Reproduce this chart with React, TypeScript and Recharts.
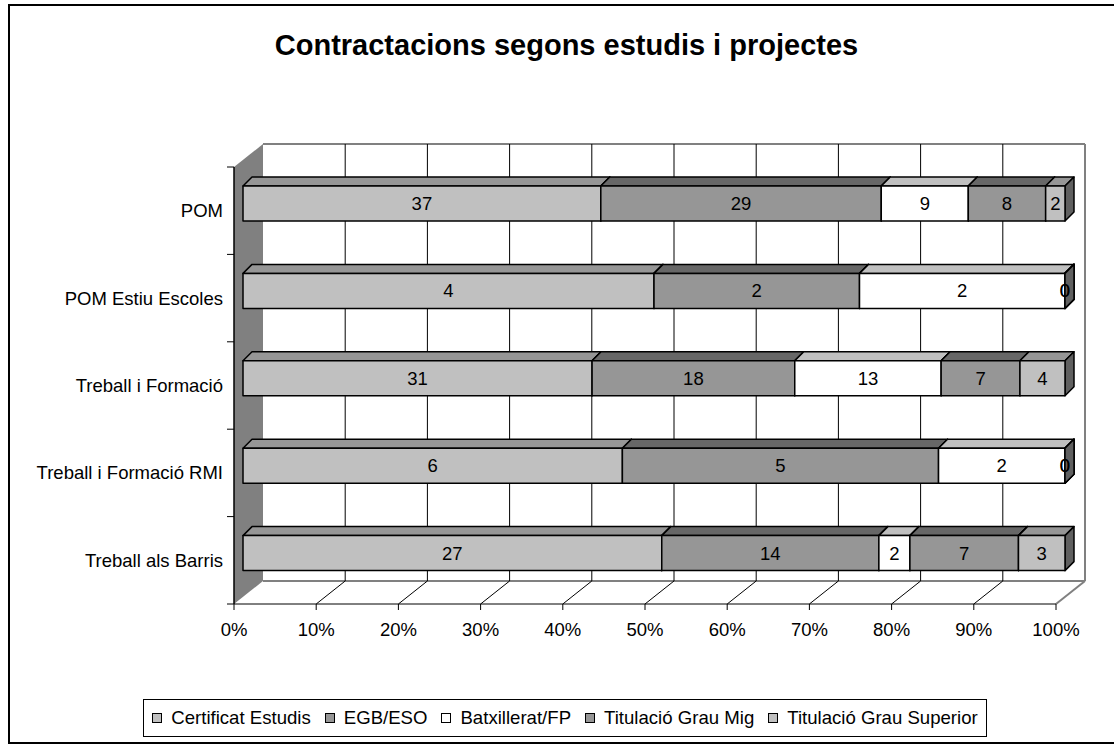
import { BarChart, Bar, XAxis, YAxis, CartesianGrid, Legend, LabelList } from "recharts"

const categories = [
  "POM",
  "POM Estiu Escoles",
  "Treball i Formació",
  "Treball i Formació RMI",
  "Treball als Barris",
]
const certificat = [37, 4, 31, 6, 27]
const egbEso = [29, 2, 18, 5, 14]
const batxillerat = [9, 2, 13, 2, 2]
const grauMig = [8, 0, 7, 0, 7]
const grauSuperior = [2, 0, 4, 0, 3]
const percentTicks = [0, 0.1, 0.2, 0.3, 0.4, 0.5, 0.6, 0.7, 0.8, 0.9, 1]

const series = [
  { key: "cert", name: "Certificat Estudis", values: certificat, fill: "#c0c0c0", top: "#969696", side: "#606060" },
  { key: "egb", name: "EGB/ESO", values: egbEso, fill: "#969696", top: "#676767", side: "#4b4b4b" },
  { key: "batx", name: "Batxillerat/FP", values: batxillerat, fill: "#ffffff", top: "#c0c0c0", side: "#808080" },
  { key: "mig", name: "Titulació Grau Mig", values: grauMig, fill: "#969696", top: "#676767", side: "#4b4b4b" },
  { key: "sup", name: "Titulació Grau Superior", values: grauSuperior, fill: "#c0c0c0", top: "#969696", side: "#606060" },
]

const data = categories.map((name, i) => {
  const row: Record<string, string | number> = { name }
  series.forEach((s) => (row[s.key] = s.values[i]))
  return row
})

const FONT = "'Liberation Sans', Arial, sans-serif"
const PLOT_TOP = 167
const PLOT_BOTTOM = 604
const PLOT_LEFT = 234
const PLOT_RIGHT = 1056
const BAND = (PLOT_BOTTOM - PLOT_TOP) / categories.length
// 3d depth of the walls and the bars
const WALL_DX = 29
const WALL_DY = 23
const BAR_DX = 9
const BAR_DY = 7
const DEPTH = 9

function Box3D(props: any) {
  const { x, y, width, height, fill, top, side } = props
  if (x == null || y == null || isNaN(width)) return null
  const fx = x + BAR_DX
  const fy = y - BAR_DY
  const w = Math.max(0, width)
  const st = { stroke: "#000", strokeWidth: 1.5, strokeLinejoin: "round" as const }
  return (
    <g>
      <polygon
        points={`${fx},${fy} ${fx + DEPTH},${fy - DEPTH} ${fx + w + DEPTH},${fy - DEPTH} ${fx + w},${fy}`}
        fill={top}
        {...st}
      />
      <polygon
        points={`${fx + w},${fy} ${fx + w + DEPTH},${fy - DEPTH} ${fx + w + DEPTH},${fy + height - DEPTH} ${fx + w},${fy + height}`}
        fill={side}
        {...st}
      />
      <rect x={fx} y={fy} width={w} height={height} fill={fill} {...st} />
    </g>
  )
}

const renderLabel = (values: number[]) => (p: any) => {
  const { x, y, width, height, index } = p
  return (
    <text
      key={`lbl-${index}`}
      x={x + width / 2 + BAR_DX}
      y={y + height / 2 - BAR_DY}
      textAnchor="middle"
      dominantBaseline="central"
      fontSize={18.5}
      fontFamily={FONT}
      fill="#000"
    >
      {values[index]}
    </text>
  )
}

function gridLine(p: any) {
  const { x1, y1, y2, index } = p
  const isLast = Math.abs(x1 - PLOT_RIGHT) < 0.5
  const col = isLast ? "#808080" : "#000"
  return (
    <g key={`grid-${index}-${x1}`}>
      {index === 0 && (
        <g>
          <polygon
            points={`${x1},${y1} ${x1 + WALL_DX},${y1 - WALL_DY} ${x1 + WALL_DX},${y2 - WALL_DY} ${x1},${y2}`}
            fill="#808080"
          />
          <line x1={x1 + WALL_DX} y1={y1 - WALL_DY} x2={PLOT_RIGHT + WALL_DX} y2={y1 - WALL_DY} stroke="#808080" strokeWidth={2} />
          <line x1={x1 + WALL_DX} y1={y2 - WALL_DY} x2={PLOT_RIGHT + WALL_DX} y2={y2 - WALL_DY} stroke="#808080" strokeWidth={2} />
        </g>
      )}
      {index !== 0 && (
        <line
          x1={x1 + WALL_DX}
          y1={y1 - WALL_DY}
          x2={x1 + WALL_DX}
          y2={y2 - WALL_DY}
          stroke={col}
          strokeWidth={isLast ? 2 : 1}
        />
      )}
      {index !== 0 && (
        <line x1={x1} y1={y2} x2={x1 + WALL_DX} y2={y2 - WALL_DY} stroke={col} strokeWidth={isLast ? 2 : 1} />
      )}
    </g>
  )
}

function CategoryTick(props: any) {
  const { x, y, payload, index } = props
  return (
    <g>
      <line x1={PLOT_LEFT - 7} y1={y - BAND / 2} x2={PLOT_LEFT} y2={y - BAND / 2} stroke="#000" />
      {index === categories.length - 1 && (
        <line x1={PLOT_LEFT - 7} y1={y + BAND / 2} x2={PLOT_LEFT} y2={y + BAND / 2} stroke="#000" />
      )}
      <text x={x} y={y} textAnchor="end" dominantBaseline="central" fontSize={18.5} fontFamily={FONT} fill="#000">
        {payload.value}
      </text>
    </g>
  )
}

function LegendBox() {
  return (
    <div
      style={{
        boxSizing: "border-box",
        width: "100%",
        height: "100%",
        border: "1px solid #000",
        display: "flex",
        alignItems: "center",
        justifyContent: "center",
        gap: 14,
        fontFamily: FONT,
        fontSize: 18.6,
        color: "#000",
        background: "#fff",
      }}
    >
      {series.map((s) => (
        <span key={s.key} style={{ display: "flex", alignItems: "center", whiteSpace: "nowrap" }}>
          <span
            style={{
              display: "inline-block",
              boxSizing: "border-box",
              width: 10,
              height: 10,
              border: "1px solid #000",
              background: s.fill,
              marginRight: 9,
            }}
          />
          {s.name}
        </span>
      ))}
    </div>
  )
}

export default function App() {
  return (
    <div style={{ position: "absolute", left: 0, top: 0, width: 1114, height: 746, background: "#fff" }}>
      <div
        style={{
          position: "absolute",
          left: 8,
          top: 4,
          width: 1106,
          height: 740,
          boxSizing: "border-box",
          borderLeft: "2px solid #000",
          borderTop: "2px solid #000",
          borderBottom: "2px solid #000",
        }}
      />
      <div
        style={{
          position: "absolute",
          left: 0,
          top: 31,
          width: 1133,
          textAlign: "center",
          fontFamily: FONT,
          fontWeight: "bold",
          fontSize: 29,
          lineHeight: "28px",
          color: "#000",
        }}
      >
        Contractacions segons estudis i projectes
      </div>
      <div style={{ position: "absolute", left: 0, top: 0 }}>
        <BarChart
          width={1114}
          height={746}
          data={data}
          layout="vertical"
          stackOffset="expand"
          barSize={35}
          margin={{ top: PLOT_TOP, right: 1114 - PLOT_RIGHT, bottom: 0, left: 0 }}
        >
          <CartesianGrid horizontal={false} vertical={gridLine} />
          <XAxis
            type="number"
            domain={[0, 1]}
            ticks={percentTicks}
            tickFormatter={(v: number) => `${Math.round(v * 100)}%`}
            height={746 - PLOT_BOTTOM}
            tickSize={6}
            tickMargin={13}
            axisLine={{ stroke: "#000" }}
            tickLine={{ stroke: "#000" }}
            tick={{ fill: "#000", fontSize: 18.5, fontFamily: FONT }}
          />
          <YAxis
            type="category"
            dataKey="name"
            width={PLOT_LEFT}
            tickSize={0}
            tickMargin={11}
            axisLine={{ stroke: "#000", strokeWidth: 1.5 }}
            tickLine={false}
            tick={<CategoryTick />}
            interval={0}
          />
          <Legend
            layout="horizontal"
            verticalAlign="middle"
            align="center"
            content={<LegendBox />}
            wrapperStyle={{ position: "absolute", left: 143, top: 699, width: 844, height: 38 }}
          />
          {series.map((s) => (
            <Bar
              key={s.key}
              dataKey={s.key}
              name={s.name}
              stackId="a"
              fill={s.fill}
              isAnimationActive={false}
              shape={(p: any) => <Box3D {...p} top={s.top} side={s.side} />}
            >
              <LabelList dataKey={s.key} content={renderLabel(s.values)} />
            </Bar>
          ))}
        </BarChart>
      </div>
    </div>
  )
}
